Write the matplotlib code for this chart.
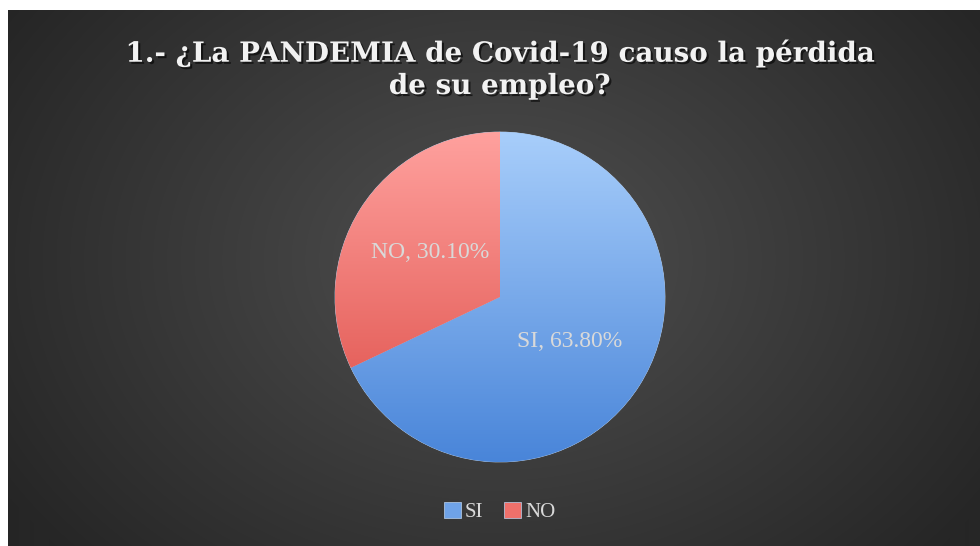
import numpy as np
import matplotlib
matplotlib.use('Agg')
from matplotlib import pyplot as plt
from matplotlib.colors import LinearSegmentedColormap
import matplotlib.patheffects as pe

# datos de la encuesta
categorias = ['SI', 'NO']
porcentajes = [63.80, 30.10]
titulo = '1.- ¿La PANDEMIA de Covid-19 causo la pérdida\nde su empleo?'

col_top = ['#a8cefb', '#ffa19e']
col_bot = ['#4985d9', '#dc4a44']
col_mid = ['#6fa3e8', '#ef706b']

fig = plt.figure(figsize=(9.8, 5.46), dpi=100)
fig.patch.set_facecolor('white')

# fondo con degradado radial
bg = fig.add_axes([8 / 980, 0, 972 / 980, 536 / 546])
bg.axis('off')
yy, xx = np.mgrid[0:536, 0:972]
cx, cy = 490, 250
d = np.sqrt(((xx - cx) / 580.0) ** 2 + ((yy - cy) / 440.0) ** 2)
d = np.clip(d, 0, 1)
c0 = np.array([0x50, 0x50, 0x50]) / 255.0
c1 = np.array([0x26, 0x26, 0x26]) / 255.0
img = c0[None, None, :] * (1 - d[..., None]) + c1[None, None, :] * d[..., None]
bg.imshow(img, aspect='auto', extent=(0, 1, 0, 1))
bg.set_xlim(0, 1)
bg.set_ylim(0, 1)

# pie
ax = fig.add_axes([335 / 980, 84 / 546, 330 / 980, 330 / 546])
etiquetas = ['%s, %.2f%%' % (c, v) for c, v in zip(categorias, porcentajes)]
wedges, texts = ax.pie(porcentajes, labels=etiquetas, colors=col_mid, startangle=90,
                       counterclock=False, labeldistance=0.5,
                       wedgeprops=dict(edgecolor='#bcd3ee', linewidth=0.5),
                       textprops=dict(color='#d9d9d9', fontsize=17, family='Liberation Serif',
                                      ha='center', va='center'))

grad = np.linspace(0, 1, 256).reshape(-1, 1)
for i, w in enumerate(wedges):
    cm = LinearSegmentedColormap.from_list('g%d' % i, [col_top[i], col_bot[i]])
    im = ax.imshow(grad, extent=(-1, 1, -1, 1), cmap=cm, aspect='auto', zorder=w.get_zorder())
    im.set_clip_path(w)
for t in texts:
    t.set_zorder(5)
ax.set_xlim(-1, 1)
ax.set_ylim(-1, 1)
ax.set_aspect('equal')
ax.axis('off')

fig.text(0.51, 0.873, titulo, ha='center', va='center', color='#f2f2f2',
         fontsize=20, fontweight='bold', family='DejaVu Serif', linespacing=1.25,
         path_effects=[pe.withSimplePatchShadow(offset=(1.5, -1.5), shadow_rgbFace='black', alpha=0.6)])

leg = fig.legend(wedges, categorias, loc='center', bbox_to_anchor=(0.51, 0.062), ncol=2,
                 frameon=False, handlelength=0.8, handleheight=0.8, handletextpad=0.2,
                 columnspacing=1.0, prop=dict(family='Liberation Serif', size=15))
for t in leg.get_texts():
    t.set_color('#d9d9d9')

plt.savefig('out.png', dpi=100)
